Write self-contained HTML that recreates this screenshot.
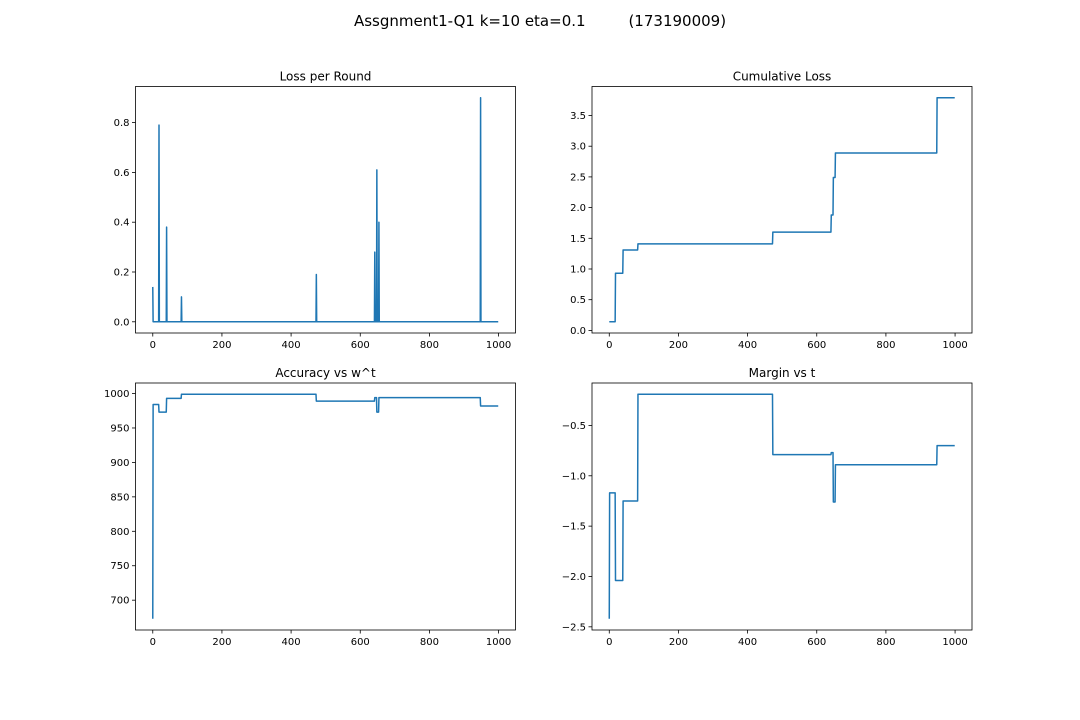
<!DOCTYPE html>
<html><head><meta charset="utf-8">
<style>
html,body{margin:0;padding:0;background:#fff;}
svg{display:block;font-family:"DejaVu Sans","Liberation Sans",sans-serif;}
</style></head>
<body>
<svg id="fig" width="1080" height="720" viewBox="0 0 1080 720">
<text x="540" y="26" text-anchor="middle" font-size="15" fill="#000" xml:space="preserve">Assgnment1-Q1 k=10 eta=0.1         (173190009)</text>
</svg>
<script>
// Loss per round: sparse spikes (round index, loss)
const lossRounds = [0, 18, 40, 83, 473, 642, 648, 654, 948];
const lossValues = [0.14, 0.79, 0.38, 0.10, 0.19, 0.28, 0.61, 0.40, 0.90];
// Accuracy vs w^t: piecewise constant (start round, value)
const accStarts = [0, 1, 18, 40, 83, 473, 642, 648, 654, 948];
const accValues = [673, 984, 973, 993, 999, 989, 994, 973, 994, 982];
// Margin vs t: piecewise constant (start round, value)
const marStarts = [0, 1, 18, 40, 83, 473, 642, 648, 654, 948];
const marValues = [-2.42, -1.17, -2.04, -1.25, -0.19, -0.79, -0.77, -1.26, -0.89, -0.70];
const nRounds = 1000;
const xTicks = [0, 200, 400, 600, 800, 1000];
const lossTicks = [0.0, 0.2, 0.4, 0.6, 0.8];
const cumTicks = [0.0, 0.5, 1.0, 1.5, 2.0, 2.5, 3.0, 3.5];
const accTicks = [700, 750, 800, 850, 900, 950, 1000];
const marTicks = [-2.5, -2.0, -1.5, -1.0, -0.5];

const NS = "http://www.w3.org/2000/svg";
const fig = document.getElementById('fig');
function mk(tag, attrs, parent){const e=document.createElementNS(NS,tag);for(const k in attrs)e.setAttribute(k,attrs[k]);(parent||fig).appendChild(e);return e;}

function expandSteps(starts, vals){
  const out=[];let j=0;
  for(let t=0;t<nRounds;t++){while(j+1<starts.length&&starts[j+1]<=t)j++;out.push(vals[j]);}
  return out;
}
function expandSpikes(rounds, vals){
  const out=new Array(nRounds).fill(0);
  rounds.forEach((r,i)=>{out[r]=vals[i];});
  return out;
}
const loss = expandSpikes(lossRounds, lossValues);
const cum = [];loss.reduce((a,v)=>{a+=v;cum.push(a);return a;},0);
const acc = expandSteps(accStarts, accValues);
const mar = expandSteps(marStarts, marValues);

function fmt(v,ticks){
  const dec = ticks.some(t=>Math.abs(t-Math.round(t))>1e-9)?1:0;
  let s=v.toFixed(dec);
  if(v<0) s='\u2212'+Math.abs(v).toFixed(dec);
  return s;
}

function panel(name, title, L, T, W, H, ys, yTicks){
  const g=mk('g',{});
  
  
  let ymin=Math.min(...ys), ymax=Math.max(...ys);
  const ym=(ymax-ymin)*0.05; ymin-=ym; ymax+=ym;
  const xmin=-0.05*(nRounds-1), xmax=(nRounds-1)*1.05;
  const sx=v=>L+(v-xmin)/(xmax-xmin)*W;
  const sy=v=>T+H-(v-ymin)/(ymax-ymin)*H;
  const tt=mk('text',{x:L+W/2,y:T-6,'text-anchor':'middle','font-size':12,fill:'#000'},g);
  tt.textContent=title;
  
  
  xTicks.forEach(v=>{
    const x=sx(v);
    mk('line',{x1:x,x2:x,y1:T+H,y2:T+H+3.5,stroke:'#000','stroke-width':0.8},g);
    const t=mk('text',{x:x,y:T+H+15,'text-anchor':'middle','font-size':10,fill:'#000'},g);
    t.textContent=String(v);
    
    
  });
  yTicks.forEach(v=>{
    const y=sy(v);
    mk('line',{x1:L-3.5,x2:L,y1:y,y2:y,stroke:'#000','stroke-width':0.8},g);
    const t=mk('text',{x:L-6,y:y+3.5,'text-anchor':'end','font-size':10,fill:'#000'},g);
    t.textContent=fmt(v,yTicks);
    
    
  });
  const pts=ys.map((v,i)=>sx(i).toFixed(2)+','+sy(v).toFixed(2)).join(' ');
  const pl=mk('polyline',{points:pts,fill:'none',stroke:'#1f77b4','stroke-width':1.5,'stroke-linejoin':'round'},g);
  
  
  const fr=mk('rect',{x:L,y:T,width:W,height:H,fill:'none',stroke:'#000','stroke-width':0.8},g);
  
  
}
panel('loss-per-round-panel','Loss per Round',135.5,86.5,380,246.5,loss,lossTicks);
panel('cumulative-loss-panel','Cumulative Loss',592,86.5,380,246.5,cum,cumTicks);
panel('accuracy-panel','Accuracy vs w^t',135.5,383,380,247,acc,accTicks);
panel('margin-panel','Margin vs t',592,383,380,247,mar,marTicks);
</script>
</body></html>
